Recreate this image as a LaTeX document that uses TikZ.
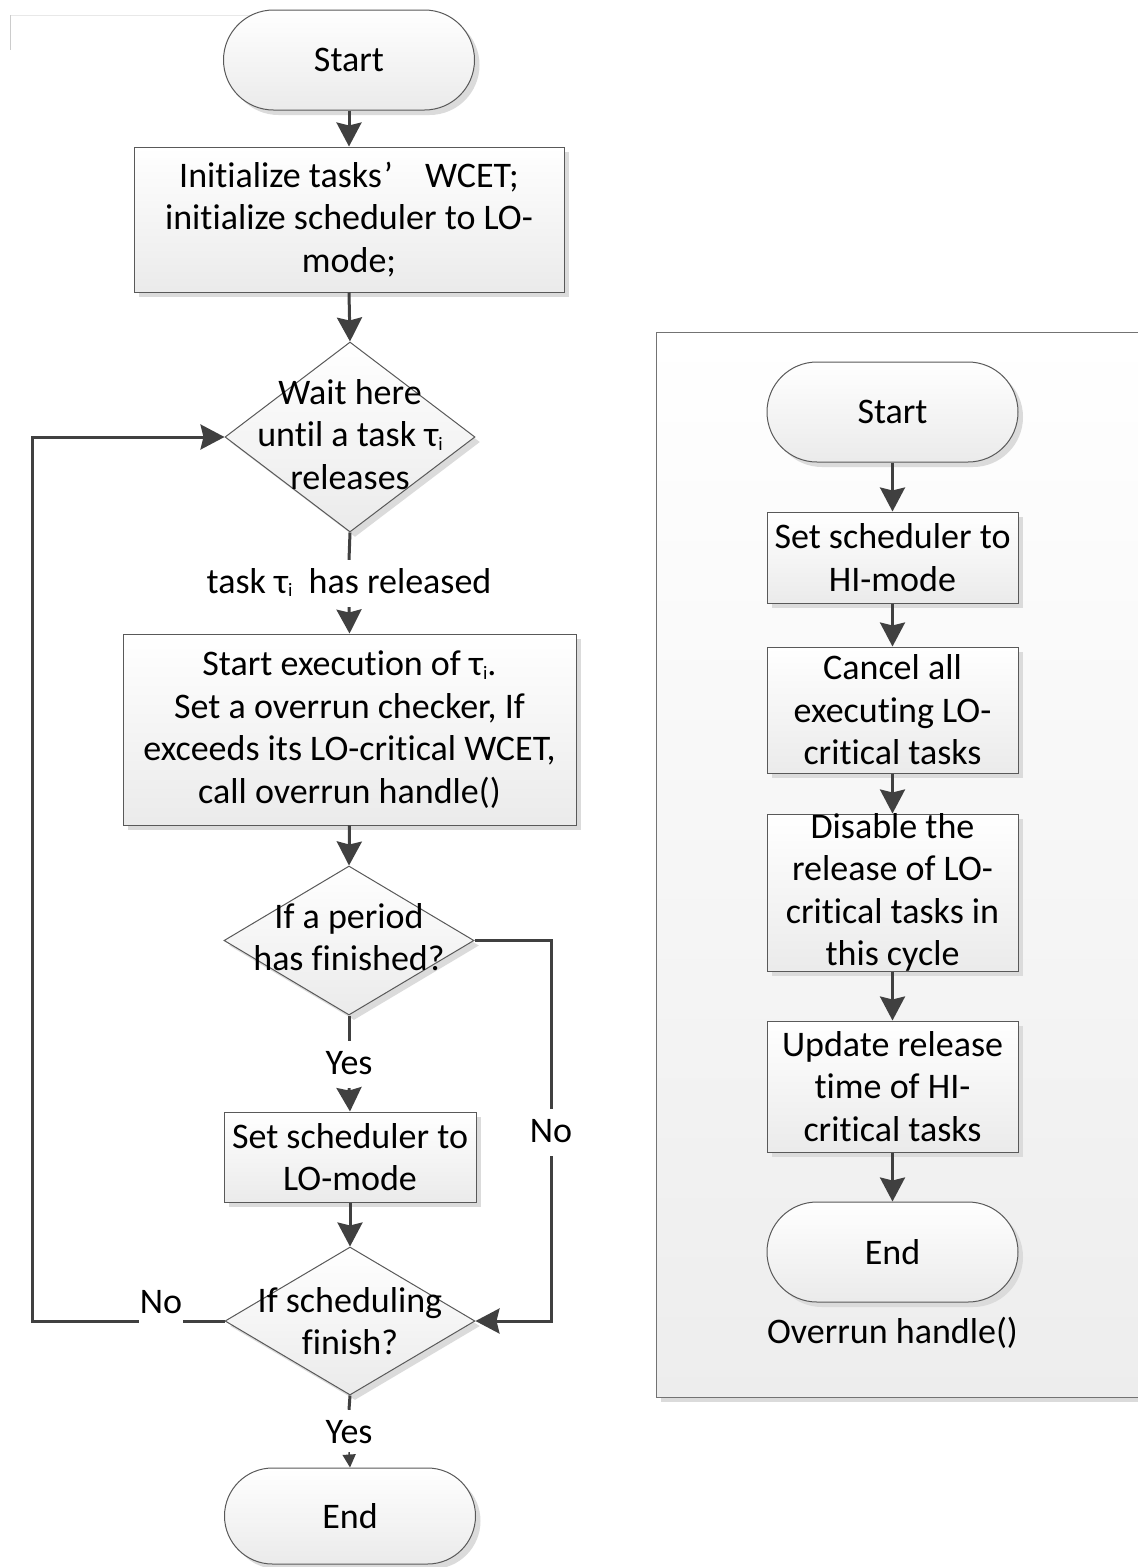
\documentclass[tikz,border=0pt]{standalone}
\usepackage{fontspec}
\setmainfont{Carlito}[Ligatures=NoCommon]
\usetikzlibrary{arrows.meta,shadows,shapes.geometric}
% small lowered index used after a task symbol
\newcommand{\taskidx}[1]{\raisebox{-3.5pt}{\fontsize{19}{19}\selectfont #1}}

\begin{document}
\begin{tikzpicture}[x=1pt,y=-1pt,
  every node/.style={font=\fontsize{36}{42.5}\selectfont},
  shdw/.style={drop shadow={shadow xshift=5pt,shadow yshift=-5pt,fill=black!14,opacity=1}},
  shapebase/.style={draw=black!65, line width=1pt, top color=white, bottom color=black!8, shdw, inner sep=0pt},
  terminal/.style={shapebase, rectangle, rounded corners=50pt, minimum width=251pt, minimum height=100pt},
  procbox/.style={shapebase, rectangle, align=center},
  decision/.style={shapebase, diamond, minimum width=250pt},
  txt/.style={align=center, inner sep=0pt},
  flow/.style={draw=black!75, line width=3pt, -{Stealth[length=24pt,width=25pt,inset=3pt]}},
  seg/.style={draw=black!75, line width=3pt},
  lbl/.style={text height=27pt, text depth=8pt, inner sep=6pt},
]
\useasboundingbox (0,0) rectangle (1138,1567);
\fill[white] (0,0) rectangle (1138,1567);
\begin{scope}
\clip (0,0) rectangle (1138,1567);

% faint corner marks
\draw[black!9, line width=1pt] (10,15) -- (262,15);
\draw[black!20, line width=1pt] (10,15) -- (10,50);

% ---------- main scheduler flow ----------
\node[terminal] (start) at (349,60) {Start};
\node[procbox, minimum width=430pt, minimum height=145pt] (init) at (349,219.5)
  {Initialize tasks\hspace{0.05em}’\hspace{0.9em}WCET;\\initialize scheduler to LO-\\mode;};
\node[decision, minimum height=190pt] (wait) at (350,437) {};
\node[txt] (wait-t) at (350,434.5) {Wait here\\until a task τ\taskidx{i}\\releases};
\node[procbox, minimum width=453pt, minimum height=191pt] (exec) at (349.5,729.5)
  {Start execution of τ\taskidx{i}.\\Set a overrun checker, If\\exceeds its LO-critical WCET,\\call overrun handle()};
\node[decision, minimum height=149pt] (period) at (349,940.5) {};
\node[txt] (period-t) at (349,937) {If a period\\has finished?};
\node[procbox, minimum width=252pt, minimum height=90pt] (lomode) at (350,1157)
  {Set scheduler to\\LO-mode};
\node[decision, minimum height=148pt] (finish) at (350,1321) {};
\node[txt] (finish-t) at (350,1321) {If scheduling\\finish?};
\node[terminal, minimum height=96pt, rounded corners=48pt] (end) at (350,1516) {End};

% connectors of the main flow
\draw[flow] (start.south) -- (init.north);
\draw[flow] (init.south) -- (wait.north);
\node[lbl] (rel) at (349,583.5) {task τ\taskidx{i}\ \ has released};
\draw[seg] (wait.south) -- (rel.north);
\draw[flow] (rel.south) -- (exec.north);
\draw[flow] (exec.south) -- (period.north);
\node[lbl] (yes1) at (349,1064.5) {Yes};
\draw[seg] (period.south) -- (yes1.north);
\draw[flow] (yes1.south) -- (lomode.north);
\draw[flow] (lomode.south) -- (finish.north);
\coordinate (rturn) at (551,940.5);
\draw[flow] (period.east) -- (rturn) |- (finish.east);
\node[lbl, fill=white] (no1) at (551,1132.5) {No};
\coordinate (lturn) at (32,1321);
\draw[flow] (finish.west) -- (lturn) |- (wait.west);
\node[lbl, fill=white, inner xsep=1pt] (no2) at (161,1303.5) {No};
\node[lbl, text depth=3pt] (yes2) at (349,1431) {Yes};
\draw[seg] (finish.south) -- (yes2.north);
\draw[draw=black!75, line width=1.5pt, -{Triangle[length=13pt,width=13pt]}] (yes2.south) -- (end.north);

% ---------- overrun handler panel ----------
\path[draw=black!55, line width=1pt, top color=white, bottom color=black!7, shdw]
  (656,332) rectangle (1160,1397);
\node[terminal] (hstart) at (892.5,412) {Start};
\node[procbox, minimum width=251pt, minimum height=91pt] (hi) at (892.5,557.5)
  {Set scheduler to\\HI-mode};
\node[procbox, minimum width=251pt, minimum height=126pt] (cancel) at (892.5,710)
  {Cancel all\\executing LO-\\critical tasks};
\node[procbox, minimum width=251pt, minimum height=157pt] (disable) at (892.5,892.5) {};
\node[txt] (disable-t) at (892.5,892.5) {Disable the\\release of LO-\\critical tasks in\\this cycle};
\node[procbox, minimum width=251pt, minimum height=131pt] (update) at (892.5,1086.5)
  {Update release\\time of HI-\\critical tasks};
\node[terminal] (hend) at (892.5,1252) {End};
\node[txt] (caption) at (892.5,1333) {Overrun handle()};

\draw[flow] (hstart.south) -- (hi.north);
\draw[flow] (hi.south) -- (cancel.north);
\draw[flow] (cancel.south) -- (disable.north);
\draw[flow] (disable.south) -- (update.north);
\draw[flow] (update.south) -- (hend.north);
\end{scope}
\end{tikzpicture}
\end{document}
